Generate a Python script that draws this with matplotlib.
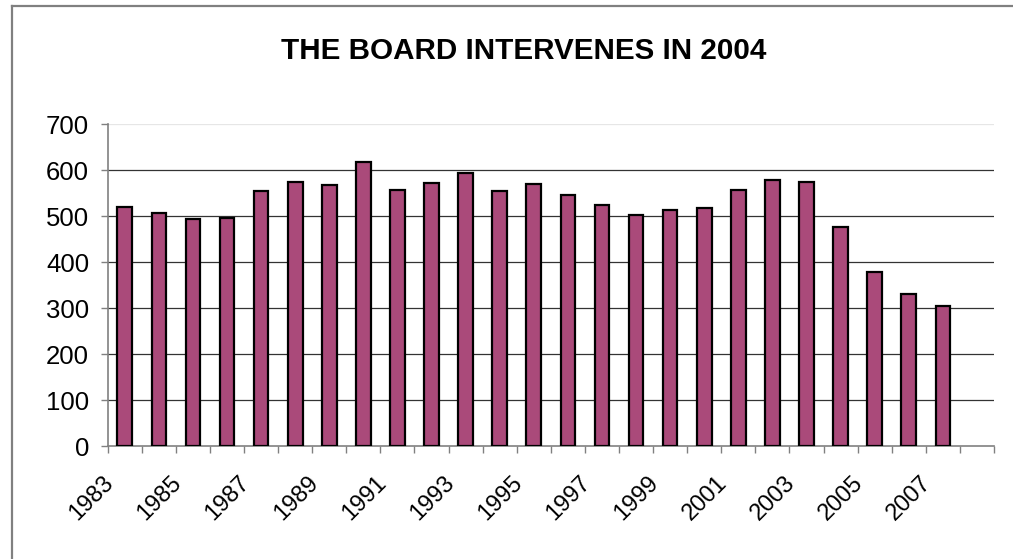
import matplotlib
matplotlib.use("Agg")
import matplotlib.pyplot as plt
from matplotlib.lines import Line2D
from matplotlib.transforms import ScaledTranslation

years = list(range(1983, 2009))
values = [519, 507, 494, 495, 554, 574, 568, 618, 556, 572, 593, 554, 570, 546,
          523, 502, 512, 517, 556, 578, 574, 477, 378, 331, 305, None]
tick_labels = [str(y) if (y - 1983) % 2 == 0 and y < 2008 else "" for y in years]
yticks = [0, 100, 200, 300, 400, 500, 600, 700]

plt.rcParams['font.family'] = ['Liberation Sans', 'DejaVu Sans']

fig = plt.figure(figsize=(10.13, 5.59), dpi=100)
fig.patch.set_facecolor('white')

# chart-area border (left and top visible)
W, H = 1013, 559
fig.add_artist(Line2D([12 / W, 12 / W], [0, 1 - 5.5 / H], transform=fig.transFigure,
                      color='#808080', lw=1.6))
fig.add_artist(Line2D([12 / W, 1], [1 - 5.5 / H, 1 - 5.5 / H], transform=fig.transFigure,
                      color='#808080', lw=1.6))

ax = fig.add_axes([107.7 / W, 1 - 446 / H, (994 - 107.7) / W, (446 - 124) / H])

xs = list(range(len(years)))
bx = [x for x, v in zip(xs, values) if v is not None]
bv = [v for v in values if v is not None]
ax.bar(bx, bv, width=0.43, color='#AA4A7A', edgecolor='black', linewidth=1.6, zorder=3)

ax.set_xlim(-0.5, len(years) - 0.5)
ax.set_ylim(0, 700)

for t in yticks[1:-1]:
    ax.axhline(t, color='#333333', lw=0.9, zorder=1)
ax.axhline(700, color='#e6e6e6', lw=0.9, zorder=1)

ax.set_yticks(yticks)
ax.set_yticklabels([str(t) for t in yticks], fontsize=18.5)
ax.tick_params(axis='y', direction='out', length=5, width=1, color='#808080', pad=8.4)

ax.set_xticks([x - 0.5 for x in xs] + [len(years) - 0.5], minor=False)
ax.set_xticklabels([])
ax.tick_params(axis='x', direction='out', length=5, width=1, color='#808080')
ax.set_xticks(xs, minor=True)
ax.set_xticklabels(tick_labels, minor=True, rotation=45, ha='right', va='center',
                   rotation_mode='anchor', fontsize=17)
ax.tick_params(axis='x', which='minor', length=0, pad=24)
offset = ScaledTranslation(-10.5 / 72, 0, fig.dpi_scale_trans)
for lab in ax.get_xticklabels(minor=True):
    lab.set_transform(lab.get_transform() + offset)

for s in ['top', 'right']:
    ax.spines[s].set_visible(False)
ax.spines['left'].set_color('#808080')
ax.spines['bottom'].set_color('#808080')
ax.spines['left'].set_linewidth(1.2)
ax.spines['bottom'].set_linewidth(1.2)
ax.set_facecolor('white')

fig.text(524 / W, 1 - 51 / H, 'THE BOARD INTERVENES IN 2004', ha='center', va='center',
         fontsize=21.3, fontweight='bold')

fig.savefig('out.png', dpi=100, facecolor='white')
